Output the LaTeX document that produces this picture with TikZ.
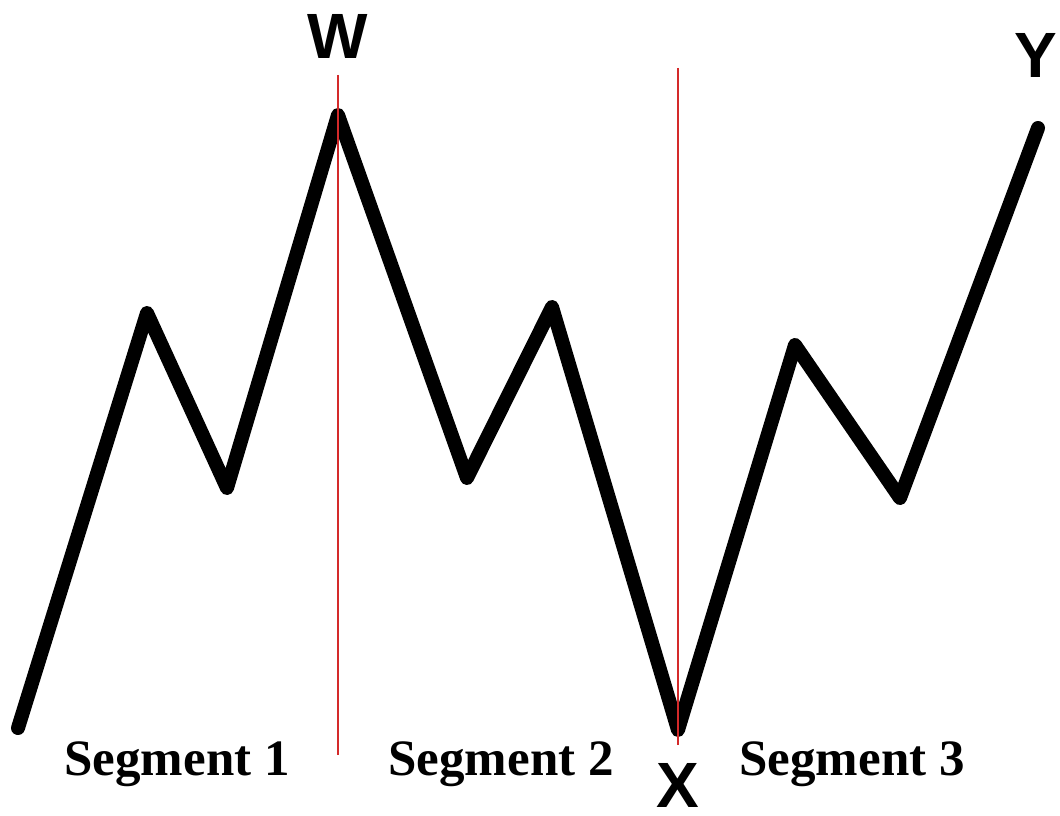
\documentclass[tikz,border=0pt]{standalone}
\usepackage{fontspec}
\usepackage{xcolor}
\usetikzlibrary{positioning}
\setmainfont{Liberation Serif}
\newfontfamily\etiqueta{Liberation Sans}
\definecolor{rojo}{HTML}{D42A2A}

\begin{document}
\begin{tikzpicture}[x=1pt,y=-1pt,
  onda/.style={line width=14pt,line cap=round,line join=round,draw=black},
  corte/.style={line width=2.2pt,draw=rojo},
  punto/.style={inner sep=0pt,font=\etiqueta\bfseries\fontsize{64}{64}\selectfont},
  tramo/.style={inner sep=0pt,anchor=base,font=\bfseries\fontsize{51}{51}\selectfont}
]
\useasboundingbox[fill=white] (0,0) rectangle (1060,816);
% vertices of the wave
\coordinate (p0) at (18,728);
\coordinate (p1) at (147,313);
\coordinate (p2) at (227,488);
\coordinate (w) at (338,115);
\coordinate (p4) at (467,478);
\coordinate (p5) at (552,307);
\coordinate (x) at (678,730);
\coordinate (p7) at (795,345);
\coordinate (p8) at (900,498);
\coordinate (y) at (1038,128);
% red dividers
\coordinate (cw1) at (338,75);
\coordinate (cw2) at (338,755);
\coordinate (cx1) at (678,68);
\coordinate (cx2) at (678,745);
\draw[onda] (p0) -- (p1) -- (p2) -- (w) -- (p4) -- (p5) -- (x) -- (p7) -- (p8) -- (y);
\draw[corte] (cw1) -- (cw2);
\draw[corte] (cx1) -- (cx2);
\node[punto] (lw) at (338,36) {W};
\node[punto] (lx) at (678,785) {X};
\node[punto] (ly) at (1036,55) {Y};
\node[tramo] (s1) at (177,775) {Segment 1};
\node[tramo] (s2) at (501,775) {Segment 2};
\node[tramo] (s3) at (852,775) {Segment 3};
\end{tikzpicture}
\end{document}
